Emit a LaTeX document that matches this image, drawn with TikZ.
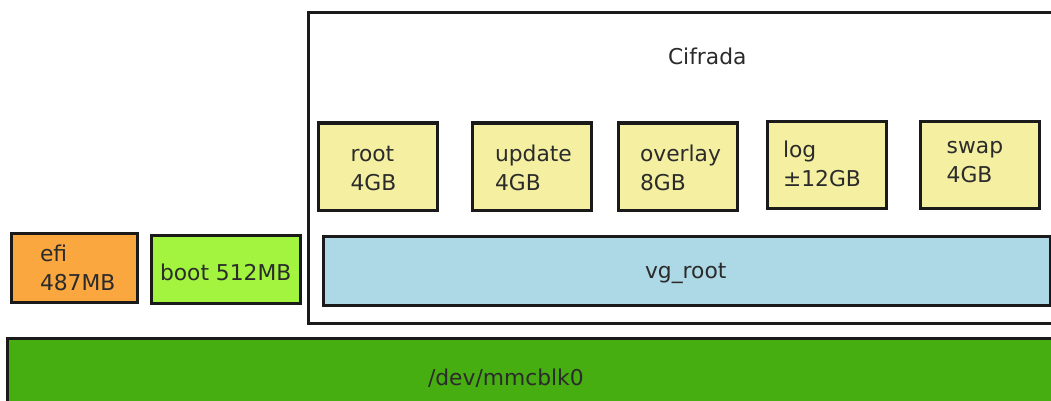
\documentclass[tikz,border=0pt]{standalone}
\usepackage{fontspec}
\setmainfont{DejaVu Sans}
\definecolor{edge}{HTML}{1A1A1A}
\definecolor{ink}{HTML}{2B2B2B}
\definecolor{efifill}{HTML}{F9A73E}
\definecolor{bootfill}{HTML}{A2F43E}
\definecolor{diskfill}{HTML}{46AE10}
\definecolor{lvfill}{HTML}{F5F0A1}
\definecolor{vgfill}{HTML}{ADD8E6}
\begin{document}
\begin{tikzpicture}[x=1pt,y=-1pt,
  every node/.style={font=\fontsize{21.8}{29}\selectfont, text=ink, inner sep=0pt, outer sep=0pt},
  part/.style={draw=edge, line width=3pt, rectangle},
  lvbox/.style={part, fill=lvfill, minimum width=119pt, minimum height=87pt},
  tag/.style={anchor=base west, align=left}
]
\useasboundingbox (0,0) rectangle (1051,401);
\begin{scope}
\clip (0,0) rectangle (1051,401);
% physical disk
\node[part, fill=diskfill, minimum width=1103pt, minimum height=92pt] (disk) at (558.5,384) {};
\node[tag] (disklabel) at (428,385.7) {/dev/mmcblk0};
% plain partitions (labels anchored on their last line)
\node[part, fill=efifill, minimum width=126pt, minimum height=69pt] (efi) at (74,267.5) {};
\node[tag] (efilabel) at (40,290.7) {efi\\487MB};
\node[part, fill=bootfill, minimum width=149pt, minimum height=68pt] (boot) at (225.5,269) {};
\node[tag] (bootlabel) at (160,280) {boot 512MB};
% encrypted container
\node[part, fill=white, minimum width=802pt, minimum height=310pt] (crypt) at (709,168) {};
\node[tag] (cryptlabel) at (668,65) {Cifrada};
% volume group
\node[part, fill=vgfill, minimum width=727pt, minimum height=69pt] (vg) at (686.5,270.5) {};
\node[tag] (vglabel) at (645,278) {vg\_root};
% logical volumes
\node[lvbox] (root) at (377.5,166.5) {};
\node[tag] (rootlabel) at (350.5,190.7) {root\\4GB};
\node[lvbox] (update) at (532,166.5) {};
\node[tag] (updatelabel) at (495,190.3) {update\\4GB};
\node[lvbox] (overlay) at (678,166.5) {};
\node[tag] (overlaylabel) at (640,190.3) {overlay\\8GB};
\node[lvbox] (log) at (827,165) {};
\node[tag] (loglabel) at (783,186.5) {log\\±12GB};
\node[lvbox] (swap) at (979.5,165) {};
\node[tag] (swaplabel) at (946.7,182.7) {swap\\4GB};
\end{scope}
\end{tikzpicture}
\end{document}
